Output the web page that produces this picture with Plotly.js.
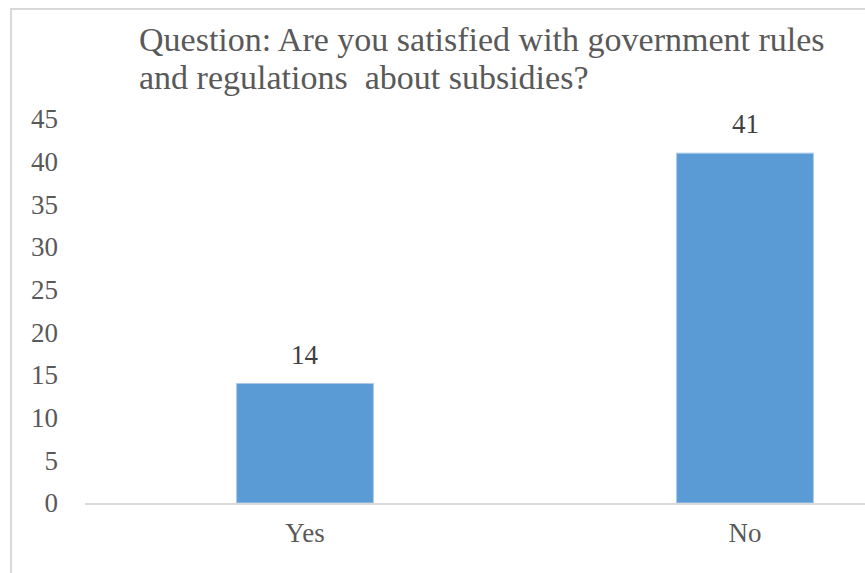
<!DOCTYPE html>
<html><head><meta charset="utf-8">
<script src="https://cdn.plot.ly/plotly-3.0.1.min.js"></script>
<style>html,body{margin:0;padding:0;background:#fff;overflow:hidden}#chart{width:865px;height:573px}</style>
</head><body><div id="chart"></div>
<script>
var categories = ["Yes", "No"];
var counts = [14, 41];
var yTicks = [0, 5, 10, 15, 20, 25, 30, 35, 40, 45];
var titleLines = ["Question: Are you satisfied with government rules", "and regulations  about subsidies?"];

var font = "Liberation Serif, Times New Roman, serif";
var trace = {
  type: "bar", x: categories, y: counts,
  width: 0.311,
  marker: {color: "#5b9bd5", line: {color: "#a9c9ea", width: 1}},
  hoverinfo: "none"
};
var annotations = categories.map(function (c, i) {
  return {x: c, y: counts[i], xref: "x", yref: "y", text: String(counts[i]), showarrow: false,
          xanchor: "center", yanchor: "bottom", yshift: 12,
          font: {family: font, size: 27, color: "#404040"}};
});
var titleY = [39, 77];
titleLines.forEach(function (t, i) {
  annotations.push({x: (137 - 85) / 780, y: (503 - titleY[i]) / 384, xref: "paper", yref: "paper",
    text: t, showarrow: false, xanchor: "left", yanchor: "middle",
    font: {family: font, size: 34, color: "#595959"}});
});
var layout = {
  width: 865, height: 573,
  margin: {l: 85, r: 0, t: 119, b: 70},
  paper_bgcolor: "#fff", plot_bgcolor: "#fff",
  showlegend: false,
  bargap: 0,
  xaxis: {type: "category", range: [-0.5, 1.2727], showgrid: false, zeroline: false,
          showline: true, linecolor: "#d9d9d9", linewidth: 2, ticks: "",
          tickfont: {family: font, size: 27, color: "#595959"}, ticklabelstandoff: 5, fixedrange: true},
  yaxis: {range: [0, 45], tickvals: yTicks, showgrid: false, zeroline: false, showline: false,
          ticks: "", tickfont: {family: font, size: 27, color: "#595959"}, ticklabelstandoff: 26, fixedrange: true},
  annotations: annotations,
  shapes: [{type: "path", xref: "paper", yref: "paper",
            path: "M " + ((11-85)/780) + " -1 L " + ((11-85)/780) + " " + ((503-9)/384) + " L 1.2 " + ((503-9)/384),
            line: {color: "#d9d9d9", width: 2}}]
};
Plotly.newPlot("chart", [trace], layout, {displayModeBar: false, staticPlot: true});
</script></body></html>
